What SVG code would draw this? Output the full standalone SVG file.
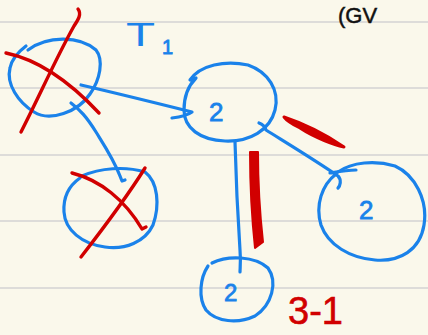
<svg xmlns="http://www.w3.org/2000/svg" width="428" height="335" viewBox="0 0 428 335">
<style>
.rule{stroke:#d3d3d3;stroke-width:1.5}
.b{fill:none;stroke:#1a82ea;stroke-width:3.2;stroke-linecap:round;stroke-linejoin:round}
.r{fill:none;stroke:#d10000;stroke-width:3.4;stroke-linecap:round;stroke-linejoin:round}
.bt{fill:#1a82ea;stroke:#1a82ea;stroke-width:0.8;font-family:"Liberation Sans",Arial,sans-serif}
.rt{fill:#d10000;stroke:#d10000;stroke-width:0.6;font-family:"Liberation Sans",Arial,sans-serif}
</style>
<rect width="428" height="335" fill="#faf8eb"/>
<g id="rules">
<line class="rule" x1="0" y1="22" x2="428" y2="22"/>
<line class="rule" x1="0" y1="88" x2="428" y2="88"/>
<line class="rule" x1="0" y1="155" x2="428" y2="155"/>
<line class="rule" x1="0" y1="221" x2="428" y2="221"/>
<line class="rule" x1="0" y1="288" x2="428" y2="288"/>
</g>
<g id="connectors">
<path class="b" d="M81,85 C120,94 160,104 192,112 C188,115 180,117 172,118"/>
<path class="b" d="M71,103 C80,110 86,116 96,132 C106,148 114,160 120,176 L122,181 L125,180"/>
<path class="b" d="M235,142 C236,180 238,220 240,250 C241,262 240,268 240,272"/>
<path class="b" d="M259,123 C262,124 265,127 266,130 C290,145 318,162 338,176 C342,180 340,186 338,188 M330,173 C336,172 346,170 356,170"/>
</g>
<g id="n1">
<path class="b" d="M28,50 C48,35 80,36 96,50 C104,60 100,80 90,94 C78,112 50,122 34,112 C18,102 6,84 10,68 C12,58 18,52 26,46"/>
<path class="r" d="M78,9 C82,14 78,20 74,26 C55,60 40,95 21,132"/>
<path class="r" d="M6,53 C40,60 70,82 99,113"/>
</g>
<g id="n2">
<path class="b" d="M190,80 C200,65 225,60 248,65 C268,72 280,90 275,110 C270,130 250,142 225,141 C200,140 184,128 184,110 C184,96 188,86 196,78"/>
<text class="bt" x="209" y="121" font-size="26">2</text>
</g>
<g id="n3">
<path class="b" d="M82,176 C100,168 125,166 145,172 C158,182 160,205 153,225 C145,242 125,250 105,247 C82,244 65,230 64,212 C63,196 70,185 80,178"/>
<path class="r" d="M72,173 C100,180 125,200 142,229 L146,227"/>
<path class="r" d="M145,168 C125,200 102,230 81,257"/>
</g>
<g id="n4">
<path class="b" d="M212,263 C228,255 255,256 268,268 C278,282 272,305 255,316 C238,324 216,322 206,310 C198,298 200,278 208,266"/>
<text class="bt" x="224" y="301" font-size="24">2</text>
</g>
<g id="n5">
<path class="b" d="M338,172 C352,162 375,160 395,166 C415,175 428,200 424,225 C420,250 400,262 375,260 C350,258 328,245 321,225 C315,205 322,185 336,174"/>
<text class="bt" x="359" y="219" font-size="26">2</text>
</g>
<g id="marks">
<path d="M284,117 C305,124 325,134 344,147 C335,145 315,138 300,128 C292,124 287,121 284,117 Z" fill="#d10000" stroke="#d10000" stroke-width="3" stroke-linejoin="round"/>
<path d="M250,152 L258,152 C258,185 260,215 263,242 L255,248 C252,220 250,185 250,152 Z" fill="#d10000" stroke="#d10000" stroke-width="2" stroke-linejoin="round"/>
<text class="rt" x="288" y="324" font-size="38">3-1</text>
<text transform="translate(126,46) scale(1.4,1)" font-size="34" fill="#1a82ea" font-family="'Liberation Sans',Arial,sans-serif">T</text>
<text class="bt" x="162" y="54" font-size="20">1</text>
<text x="338" y="23" font-size="22" fill="#111" stroke="#111" stroke-width="0.5" font-family="'Liberation Sans',Arial,sans-serif">(GV</text>
</g>
</svg>
